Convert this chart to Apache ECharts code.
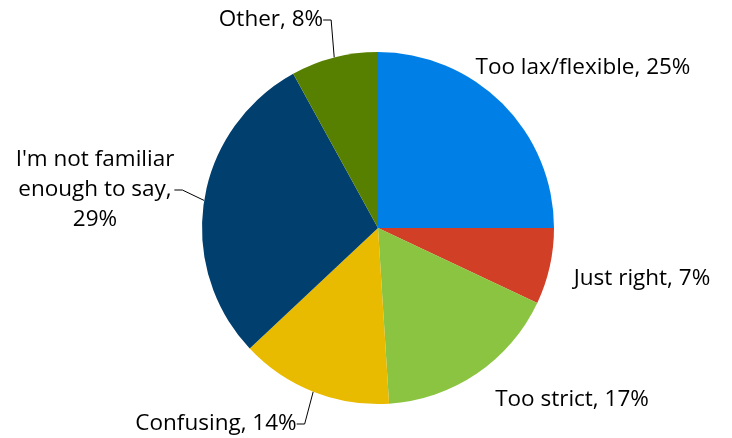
<!DOCTYPE html>
<html>
<head>
<meta charset="utf-8">
<script src="https://cdn.jsdelivr.net/npm/echarts@6/dist/echarts.min.js"></script>
<style>html,body{margin:0;padding:0;background:#fff}#c{width:732px;height:438px}</style>
</head>
<body>
<div id="c"></div>
<script>
var categories = ["Too lax/flexible", "Just right", "Too strict", "Confusing", "I'm not familiar\nenough to say,\n", "Other"];
var values = [25, 7, 17, 14, 29, 8];
var colors = ["#0080E6", "#D13F26", "#8BC441", "#E8BA00", "#003F6E", "#588000"];
var showLine = [false, false, false, true, true, true];
var labelPos = [[583, 68], [642, 279], [572, 400], [216, 424], [95, 190], [271, 20]];

var chart = echarts.init(document.getElementById('c'), null, {renderer: 'canvas'});
chart.setOption({
  animation: false,
  series: [{
    type: 'pie',
    center: [378, 228],
    radius: [0, 176],
    startAngle: 90,
    clockwise: true,
    data: categories.map(function (c, i) {
      return {
        name: c,
        value: values[i],
        itemStyle: {color: colors[i]},
        labelLine: {show: showLine[i]}
      };
    }),
    label: {
      show: true,
      position: 'outside',
      fontFamily: 'Open Sans',
      fontSize: 22.5,
      color: '#000',
      lineHeight: 30,
      align: 'center',
      overflow: 'none',
      formatter: function (p) {
        var n = p.name;
        return n.slice(-1) === '\n' ? n + p.value + '%' : n + ', ' + p.value + '%';
      }
    },
    labelLine: {
      lineStyle: {color: '#000', width: 1},
      length: 10,
      length2: 8
    },
    labelLayout: function (p) {
      var pos = labelPos[p.dataIndex];
      return {x: pos[0], y: pos[1], align: 'center', verticalAlign: 'middle'};
    },
    itemStyle: {borderWidth: 0}
  }]
});
</script>
</body>
</html>
